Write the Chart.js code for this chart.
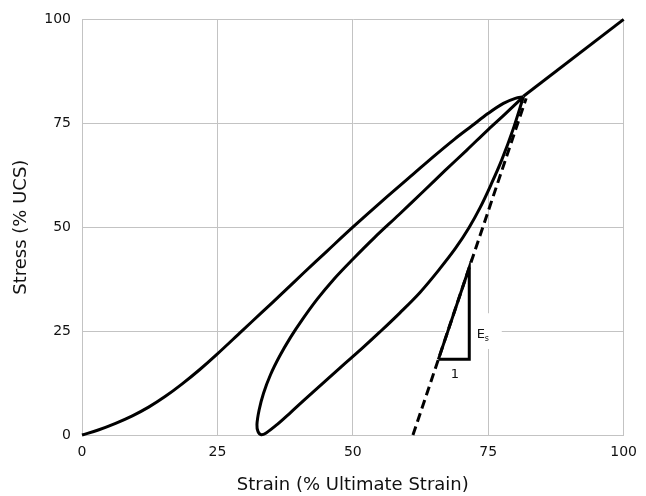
<!DOCTYPE html>
<html>
<head>
<meta charset="utf-8">
<script src="https://cdn.jsdelivr.net/npm/chart.js@4"></script>
<style>
  body { margin: 0; background: #fff; }
  #wrap { width: 646px; height: 496px; }
</style>
</head>
<body>
<div id="wrap"><canvas id="chart"></canvas></div>
<script>
// axis ticks
var xTicks = [0, 25, 50, 75, 100];
var yTicks = [0, 25, 50, 75, 100];

// first loading curve, origin to peak
var loadX = [0, 3, 6.2, 9.3, 12.3, 15.4, 18.5, 21.7, 24.9, 29.5, 33.2, 36.9, 41, 45.2, 50, 55.5, 61.1, 65, 68.8, 72, 75, 77.8, 80, 81.5];
var loadY = [0, 1.2, 2.8, 4.6, 6.7, 9.3, 12.3, 15.7, 19.4, 25, 29.5, 34, 39.1, 44.2, 50, 56.4, 62.7, 67.1, 71.2, 74.4, 77.4, 79.8, 81, 81.4];

// unload / reload loop from the peak
var loopX = [81.5, 78, 75, 71, 67, 63, 58.5, 54, 50, 46.5, 43.5, 40.8, 38.5, 36.5, 34.8, 33.5, 32.7, 32.3, 32.5, 33.1, 34, 36, 38.5, 41, 44.5, 48, 51.5, 55, 58.7, 62.4, 66, 69, 71.5, 73.5, 75.5, 77.5, 79.6, 81.5];
var loopY = [81.4, 77.1, 73.5, 68.5, 63.6, 58.6, 53, 47.5, 42.3, 37.5, 32.8, 28, 23.5, 19, 14.5, 10, 6, 2.5, 0.8, 0.05, 0.5, 2.5, 5.4, 8.4, 12.5, 16.6, 20.6, 24.8, 29.4, 34.3, 39.9, 45, 50, 54.7, 60.2, 66.2, 73.6, 81.4];

// straight continuation past the peak
var diagX = [81.5, 100];
var diagY = [81.5, 100];

// unloading modulus, dashed
var modX = [61.1, 82];
var modY = [0, 81];

// slope triangle
var triX = [65.8, 71.5, 71.5, 65.8];
var triY = [18.2, 18.2, 40.3, 18.2];

function pts(xs, ys) {
  return xs.map(function(x, i) { return { x: x, y: ys[i] }; });
}

var gridCol = '#c3c3c3';
var font = 'DejaVu Sans, Verdana, sans-serif';

var notes = {
  id: 'notes',
  beforeDatasetsDraw: function(chart) {
    var ctx = chart.ctx, xs = chart.scales.x, ys = chart.scales.y;
    var l = xs.getPixelForValue(67), r = xs.getPixelForValue(77.5);
    var t = ys.getPixelForValue(29.3), b = ys.getPixelForValue(20.7);
    ctx.save();
    ctx.fillStyle = '#fff';
    ctx.fillRect(l, t, r - l, b - t);
    ctx.restore();
  },
  afterDatasetsDraw: function(chart) {
    var ctx = chart.ctx, xs = chart.scales.x, ys = chart.scales.y;
    ctx.save();
    ctx.fillStyle = '#111';
    ctx.textBaseline = 'alphabetic';
    ctx.font = '13px ' + font;
    var ex = xs.getPixelForValue(72.9), ey = ys.getPixelForValue(23.3);
    ctx.fillText('E', ex, ey);
    ctx.font = '8px ' + font;
    ctx.fillText('s', ex + 8, ey + 3);
    ctx.font = '13px ' + font;
    ctx.fillText('1', xs.getPixelForValue(68.1), ys.getPixelForValue(13.8));
    ctx.restore();
  }
};

var line = { borderColor: '#000', borderWidth: 3, pointRadius: 0, fill: false, clip: false };

new Chart('chart', {
  type: 'line',
  plugins: [notes],
  data: {
    datasets: [
      Object.assign({ data: pts(loadX, loadY), tension: 0.35 }, line),
      Object.assign({ data: pts(loopX, loopY), tension: 0.35 }, line),
      Object.assign({ data: pts(diagX, diagY), tension: 0 }, line),
      Object.assign({ data: pts(modX, modY), tension: 0, borderDash: [9, 5] }, line),
      Object.assign({ data: pts(triX, triY), tension: 0 }, line)
    ]
  },
  options: {
    responsive: true,
    maintainAspectRatio: false,
    animation: false,
    layout: { padding: { top: 15, right: 22, left: 0, bottom: 0 } },
    plugins: { legend: { display: false }, tooltip: { enabled: false } },
    scales: {
      x: {
        type: 'linear', min: 0, max: 100,
        afterBuildTicks: function(s) { s.ticks = xTicks.map(function(v) { return { value: v }; }); },
        afterFit: function(s) { s.height = 61; },
        grid: { color: gridCol, drawTicks: false },
        border: { color: gridCol },
        ticks: { color: '#111', padding: 9, font: { family: font, size: 14 }, maxRotation: 0 },
        title: { display: true, text: 'Strain (% Ultimate Strain)', color: '#111',
                 font: { family: font, size: 18 }, padding: { top: 0, bottom: 0 } }
      },
      y: {
        type: 'linear', min: 0, max: 100,
        afterBuildTicks: function(s) { s.ticks = yTicks.map(function(v) { return { value: v }; }); },
        afterFit: function(s) { s.width = 82; },
        grid: { color: gridCol, drawTicks: false },
        border: { color: gridCol },
        ticks: { color: '#111', padding: 11, font: { family: font, size: 14 } },
        title: { display: true, text: 'Stress (% UCS)', color: '#111',
                 font: { family: font, size: 18 }, padding: { top: 11, bottom: 0 } }
      }
    }
  }
});
</script>
</body>
</html>
